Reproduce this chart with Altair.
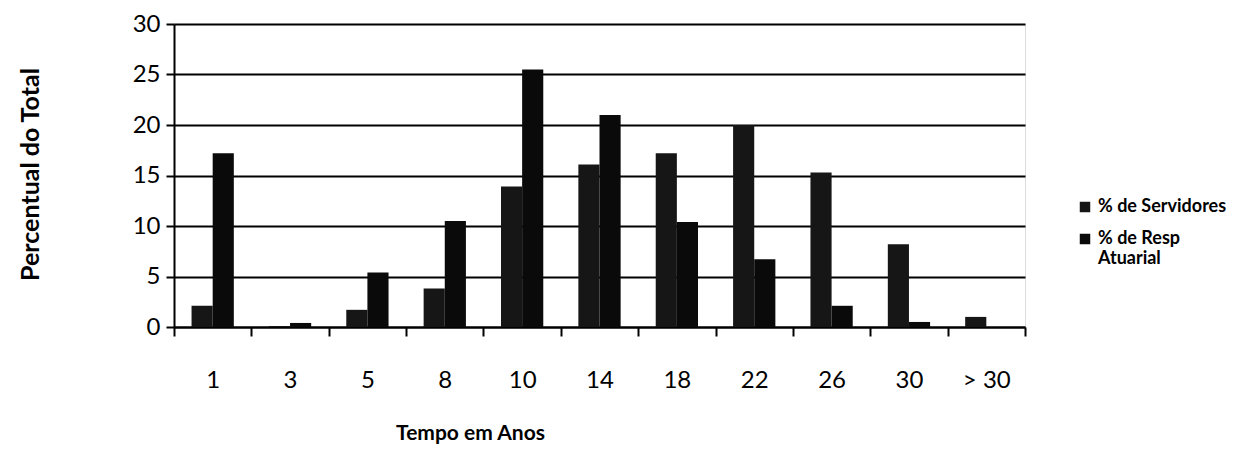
import altair as alt
import pandas as pd

categories = ["1", "3", "5", "8", "10", "14", "18", "22", "26", "30", "> 30"]
servidores = [2.1, 0.1, 1.7, 3.8, 13.9, 16.1, 17.2, 20.0, 15.3, 8.2, 1.0]
resp_atuarial = [17.2, 0.4, 5.4, 10.5, 25.5, 21.0, 10.4, 6.7, 2.1, 0.5, 0.0]
series_names = ["% de Servidores", "% de Resp Atuarial"]
series_colors = ["#161616", "#0a0a0a"]

rows = []
for c, s, r in zip(categories, servidores, resp_atuarial):
    rows.append({"Tempo": c, "Serie": series_names[0], "Valor": s})
    rows.append({"Tempo": c, "Serie": series_names[1], "Valor": r})
df = pd.DataFrame(rows)

FONT = "Lato"

chart = alt.Chart(df).mark_bar().encode(
    x=alt.X("Tempo:N", sort=categories,
            scale=alt.Scale(paddingInner=0, paddingOuter=0),
            axis=alt.Axis(title="Tempo em Anos", labelAngle=0, tickBand="extent",
                          ticks=True, tickSize=9, tickWidth=2, tickColor="black",
                          domainColor="black", domainWidth=2,
                          labelFontSize=24, labelFont=FONT, labelColor="black",
                          labelPadding=32,
                          titleFont=FONT, titleFontSize=21, titleFontWeight="bold",
                          titleColor="black", titleX=296, titleY=106,
                          titleBaseline="middle", titleAnchor="middle",
                          titleAlign="center")),
    xOffset=alt.XOffset("Serie:N", sort=series_names,
                        scale=alt.Scale(paddingInner=0, paddingOuter=0.83)),
    y=alt.Y("Valor:Q", scale=alt.Scale(domain=[0, 30], nice=False),
            axis=alt.Axis(title="Percentual do Total", values=[0, 5, 10, 15, 20, 25, 30],
                          grid=True, gridColor="black", gridWidth=2, gridOpacity=1,
                          domainColor="black", domainWidth=2,
                          ticks=True, tickSize=8, tickWidth=2, tickColor="black",
                          labelFontSize=24, labelFont=FONT, labelColor="black",
                          labelPadding=6,
                          titleFont=FONT, titleFontSize=25, titleFontWeight="bold",
                          titleColor="black", titleX=-144, titleY=150,
                          titleAlign="center", titleBaseline="middle")),
    color=alt.Color("Serie:N", sort=series_names,
                    scale=alt.Scale(domain=series_names, range=series_colors),
                    legend=alt.Legend(title=None, orient="none", legendX=902, legendY=174,
                                      symbolType="square", symbolSize=110,
                                      labelFont=FONT, labelFontSize=18,
                                      labelFontWeight="bold", labelColor="black",
                                      labelLimit=400, rowPadding=14,
                                      labelExpr="datum.label == '% de Resp Atuarial' ? ['% de Resp', 'Atuarial'] : datum.label")),
).properties(
    width=851, height=303,
    autosize=alt.AutoSizeParams(type="none"),
    padding={"left": 166, "top": 16, "right": 208, "bottom": 127},
).configure_view(stroke=None).configure(background="white")

chart.save("out.html", embed_options={"renderer": "svg", "actions": False})
